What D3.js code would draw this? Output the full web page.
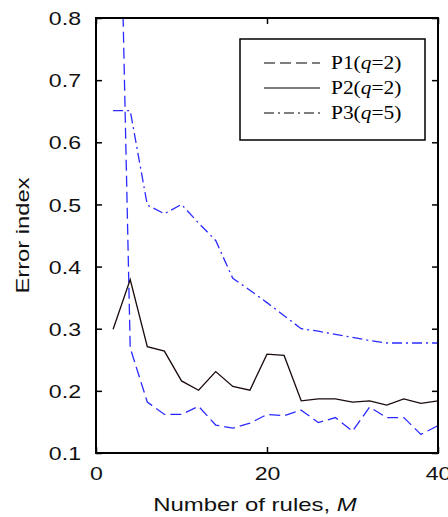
<!DOCTYPE html>
<html>
<head>
<meta charset="utf-8">
<script src="https://cdn.jsdelivr.net/npm/d3@7"></script>
<style>
  body { margin: 0; background: #fff; }
  svg { display: block; }
  .tick text { font-family: "Liberation Sans", Arial, sans-serif; font-size: 18.5px; fill: #111; }
</style>
</head>
<body>
<svg id="chart" width="448" height="517"></svg>
<script>
// data
var rules = [2, 4, 6, 8, 10, 12, 14, 16, 18, 20, 22, 24, 26, 28, 30, 32, 34, 36, 38, 40];
var p1 = [1.55, 0.269, 0.182, 0.162, 0.162, 0.175, 0.145, 0.140, 0.148, 0.162,
          0.160, 0.169, 0.149, 0.157, 0.135, 0.174, 0.157, 0.157, 0.130, 0.144];
var p2 = [0.299, 0.379, 0.271, 0.264, 0.216, 0.201, 0.231, 0.207, 0.201, 0.259,
          0.257, 0.184, 0.187, 0.187, 0.182, 0.184, 0.177, 0.187, 0.180, 0.184];
var p3 = [0.651, 0.651, 0.499, 0.485, 0.500, 0.470, 0.442, 0.381, 0.362, 0.342,
          0.321, 0.300, 0.296, 0.291, 0.286, 0.281, 0.277, 0.277, 0.277, 0.277];
var xTicks = [0, 20, 40];
var yTicks = [0.1, 0.2, 0.3, 0.4, 0.5, 0.6, 0.7, 0.8];
var legendNames = ["P1", "P2", "P3"];
var legendQ = [2, 2, 5];

var width = 448, height = 517,
    margin = { top: 18, right: 10, bottom: 64, left: 96 };

var svg = d3.select('#chart');

// the original figure's glyphs are a bit wider than ours
function widen(sel, k) {
    sel.each(function(){
        var w = this.getComputedTextLength();
        d3.select(this).attr('textLength', w * k).attr('lengthAdjust', 'spacingAndGlyphs');
    });
}

var x = d3.scaleLinear().domain([0, 40]).range([margin.left, width - margin.right]);
var y = d3.scaleLinear().domain([0.1, 0.8]).range([height - margin.bottom, margin.top]);

var series = [
    { name: "P1", values: p1, color: "#2b2bff", dash: "11,5" },
    { name: "P2", values: p2, color: "#1a0a0a", dash: null },
    { name: "P3", values: p3, color: "#2b2bff", dash: "10,4,2,4" }
];

svg.append('clipPath').attr('id', 'clip')
    .append('rect')
    .attr('x', x(0)).attr('y', y(0.8))
    .attr('width', x(40) - x(0)).attr('height', y(0.1) - y(0.8));

var line = d3.line()
    .x(function(d, i){ return x(rules[i]) })
    .y(function(d){ return y(d) });

var plot = svg.append('g').attr('clip-path', 'url(#clip)');
series.forEach(function(s){
    plot.append('path')
        .attr('d', line(s.values))
        .attr('fill', 'none')
        .attr('stroke', s.color)
        .attr('stroke-width', 1.3)
        .attr('stroke-dasharray', s.dash);
});

// axes, ticks pointing inwards, mirrored on top/right
var tickLen = 6;
var bottomAxis = d3.axisBottom(x).tickValues(xTicks).tickSizeInner(-tickLen).tickSizeOuter(0).tickPadding(14).tickFormat(d3.format('d'));
var leftAxis = d3.axisLeft(y).tickValues(yTicks).tickSizeInner(-tickLen).tickSizeOuter(0).tickPadding(15).tickFormat(d3.format('.1f'));

var gx = svg.append('g').attr('transform', 'translate(0,' + y(0.1) + ')').call(bottomAxis);
var gy = svg.append('g').attr('transform', 'translate(' + x(0) + ',0)').call(leftAxis);
var gxTop = svg.append('g').attr('transform', 'translate(0,' + y(0.8) + ')')
    .call(d3.axisTop(x).tickValues(xTicks).tickSizeInner(-tickLen).tickSizeOuter(0).tickFormat(''));
var gyRight = svg.append('g').attr('transform', 'translate(' + x(40) + ',0)')
    .call(d3.axisRight(y).tickValues(yTicks).tickSizeInner(-tickLen).tickSizeOuter(0).tickFormat(''));

[gx, gy, gxTop, gyRight].forEach(function(g){
    g.select('.domain').remove();
    g.selectAll('.tick line').attr('stroke', '#000').attr('stroke-width', 1.5);
});
gy.selectAll('.tick text').attr('dy', '0.36em');
widen(gx.selectAll('.tick text'), 1.25);
widen(gy.selectAll('.tick text'), 1.25);

svg.append('rect')
    .attr('x', x(0)).attr('y', y(0.8))
    .attr('width', x(40) - x(0)).attr('height', y(0.1) - y(0.8))
    .attr('fill', 'none').attr('stroke', '#000').attr('stroke-width', 2);

// axis titles
var xt = svg.append('text')
    .attr('x', 255).attr('y', 511)
    .attr('text-anchor', 'middle')
    .attr('font-family', '"Liberation Sans", Arial, sans-serif')
    .attr('font-size', '19px').attr('fill', '#111');
xt.append('tspan').text('Number of rules, ');
xt.append('tspan').attr('font-style', 'italic').text('M');
widen(xt, 1.26);

var yt = svg.append('text')
    .attr('transform', 'translate(29,' + ((y(0.1) + y(0.8)) / 2) + ') rotate(-90)')
    .attr('text-anchor', 'middle')
    .attr('font-family', '"Liberation Sans", Arial, sans-serif')
    .attr('font-size', '19px').attr('fill', '#111')
    .text('Error index');
widen(yt, 1.25);

// legend
var legend = svg.append('g');
legend.append('rect')
    .attr('x', 240).attr('y', 39).attr('width', 185).attr('height', 101)
    .attr('fill', '#fff').attr('stroke', '#000').attr('stroke-width', 1.5);

legendNames.forEach(function(n, i){
    var ly = 63 + i * 25;
    legend.append('line')
        .attr('x1', 264).attr('x2', 320).attr('y1', ly).attr('y2', ly)
        .attr('stroke', '#000').attr('stroke-width', 1.2)
        .attr('stroke-dasharray', series[i].dash);
    var t = legend.append('text')
        .attr('x', 331).attr('y', ly + 6)
        .attr('font-family', '"Liberation Serif", "Times New Roman", serif')
        .attr('font-size', '18px').attr('fill', '#000');
    t.append('tspan').text(n + '(');
    t.append('tspan').attr('font-style', 'italic').text('q');
    t.append('tspan').text('=' + legendQ[i] + ')');
    widen(t, 1.19);
});
</script>
</body>
</html>
